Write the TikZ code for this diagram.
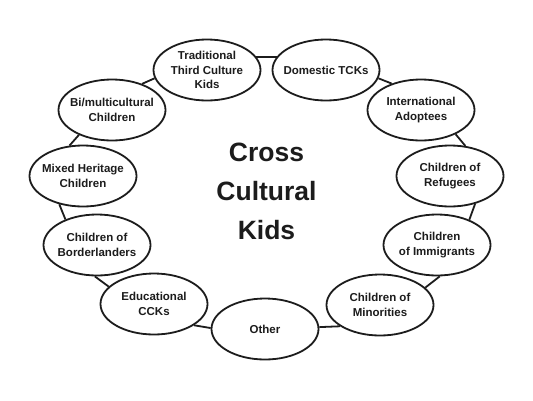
\documentclass[tikz,border=0pt]{standalone}
\usepackage{fontspec}
\setmainfont{Liberation Sans}
\usetikzlibrary{shapes.geometric}
\definecolor{ink}{HTML}{1C1C1C}
\begin{document}
\begin{tikzpicture}[x=1pt,y=-1pt,
  kid/.style={ellipse,draw=ink,line width=1.8pt,fill=white,minimum width=107pt,minimum height=61pt,inner xsep=-20pt,inner ysep=-15pt,align=center,font=\fontsize{11.5}{14.5}\selectfont\bfseries,text=ink},
  link/.style={draw=ink,line width=1.8pt}]
\useasboundingbox[fill=white] (0,0) rectangle (533,400);
\node[kid] (trad) at (207,70) {Traditional\\Third Culture\\Kids};
\node[kid] (dom) at (326,70) {Domestic TCKs};
\node[kid] (int) at (421,110) {International\\Adoptees};
\node[kid] (ref) at (450,176) {Children of\\Refugees};
\node[kid] (imm) at (437,245) {Children\\of Immigrants};
\node[kid] (min) at (380,305) {Children of\\Minorities};
\node[kid] (oth) at (265,329) {Other};
\node[kid] (edu) at (154,304) {Educational\\CCKs};
\node[kid] (bor) at (97,245) {Children of\\Borderlanders};
\node[kid] (mix) at (83,176) {Mixed Heritage\\Children};
\node[kid] (bi) at (112,110) {Bi/multicultural\\Children};
\node[align=center,inner sep=0pt,text=ink,font=\fontsize{26.5}{39}\selectfont\bfseries] (cck) at (266.5,191.5) {Cross\\Cultural\\Kids};
\path[link] (trad.15) -- (dom.165);
\path[link] (dom.351) -- (int.138);
\path[link] (int.325) -- (ref.63);
\path[link] (ref.312) -- (imm.38);
\path[link] (imm.275) -- (min.21);
\path[link] (min.208) -- (oth.2);
\path[link] (oth.179) -- (edu.332);
\path[link] (edu.159) -- (bor.266);
\path[link] (bor.141) -- (mix.230);
\path[link] (mix.114) -- (bi.217);
\path[link] (bi.41) -- (trad.189);
\end{tikzpicture}
\end{document}
